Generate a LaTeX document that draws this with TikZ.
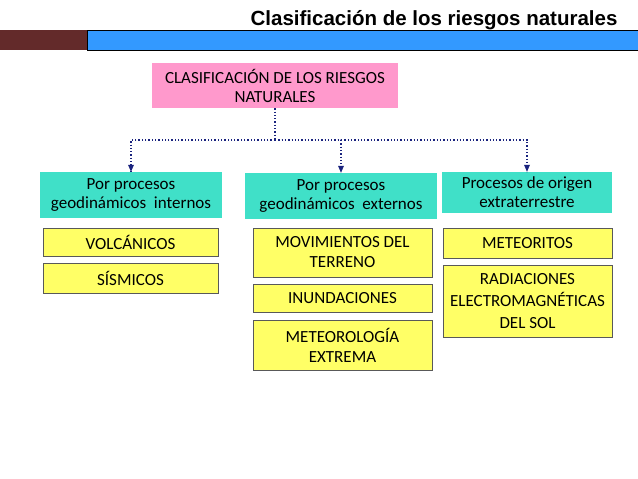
\documentclass[tikz,border=0pt]{standalone}
\usepackage{fontspec}
\setmainfont{Carlito}
\newfontfamily\titlefont{Liberation Sans}
\usepackage{xcolor}
\definecolor{rootpink}{HTML}{FF99CC}
\definecolor{groupteal}{HTML}{40E0C8}
\definecolor{itemyellow}{HTML}{FFFF66}
\definecolor{barbrown}{HTML}{632A2A}
\definecolor{barblue}{HTML}{3399FF}
\definecolor{linkblue}{HTML}{1A237E}
\tikzset{
    box/.style={draw=none,inner sep=0pt,align=center,font=\fontsize{17}{19}\selectfont},
    item/.style={draw=gray!70!black,fill=itemyellow,inner sep=0pt,align=center,font=\fontsize{17}{20}\selectfont},
    link/.style={linkblue,line width=1.3pt,dotted},
}
\begin{document}
\begin{tikzpicture}[x=1pt,y=-1pt]
        \useasboundingbox (0,0) rectangle (638,479);
        % header
        \node[anchor=base east,font=\titlefont\bfseries\fontsize{20.5}{22}\selectfont] (title) at (621,25) {Clasificación de los riesgos naturales};
        \fill[barbrown] (0,30) rectangle (87,50);
        \draw[fill=barblue] (87,30) rectangle (638,50);
        % root
        \node[box,fill=rootpink,minimum width=246pt,minimum height=45pt] (root) at (275,85.5) {CLASIFICACIÓN DE LOS RIESGOS\\NATURALES};
        % groups
        \node[box,fill=groupteal,minimum width=182pt,minimum height=46pt] (g1) at (131,195) {Por procesos\\geodinámicos\ \ internos};
        \node[box,fill=groupteal,minimum width=192pt,minimum height=46pt] (g2) at (341,196) {Por procesos\\geodinámicos\ \ externos};
        \node[box,fill=groupteal,minimum width=170pt,minimum height=41pt] (g3) at (527,192.5) {Procesos de origen\\extraterrestre};
        % items
        \node[item,minimum width=175pt,minimum height=28pt] (volc) at (130.5,242) {VOLCÁNICOS};
        \node[item,minimum width=175pt,minimum height=30pt] (sism) at (130.5,278) {SÍSMICOS};
        \node[item,minimum width=179pt,minimum height=49pt] (movi) at (342.5,252.5) {MOVIMIENTOS DEL\\TERRENO};
        \node[item,minimum width=179pt,minimum height=28pt] (inun) at (342.5,298) {INUNDACIONES};
        \node[item,minimum width=179pt,minimum height=50pt] (mete) at (342.5,345) {METEOROLOGÍA\\EXTREMA};
        \node[item,minimum width=169pt,minimum height=30pt] (metr) at (527.5,243) {METEORITOS};
        \node[item,minimum width=169pt,minimum height=72pt,font=\fontsize{17}{22}\selectfont] (radi) at (527.5,301) {RADIACIONES\\ELECTROMAGNÉTICAS\\DEL SOL};
        % links
        \coordinate (split) at (275,140);
        \draw[link] (root.south) -- (split);
        \foreach \g in {g1,g2,g3}
            \draw[link] (split) -| (\g.north);
        \foreach \g in {g1,g2,g3}
            \fill[linkblue] (\g.north) ++(-3,-7) -- ++(6,0) -- ++(-3,7) -- cycle;
\end{tikzpicture}
\end{document}
